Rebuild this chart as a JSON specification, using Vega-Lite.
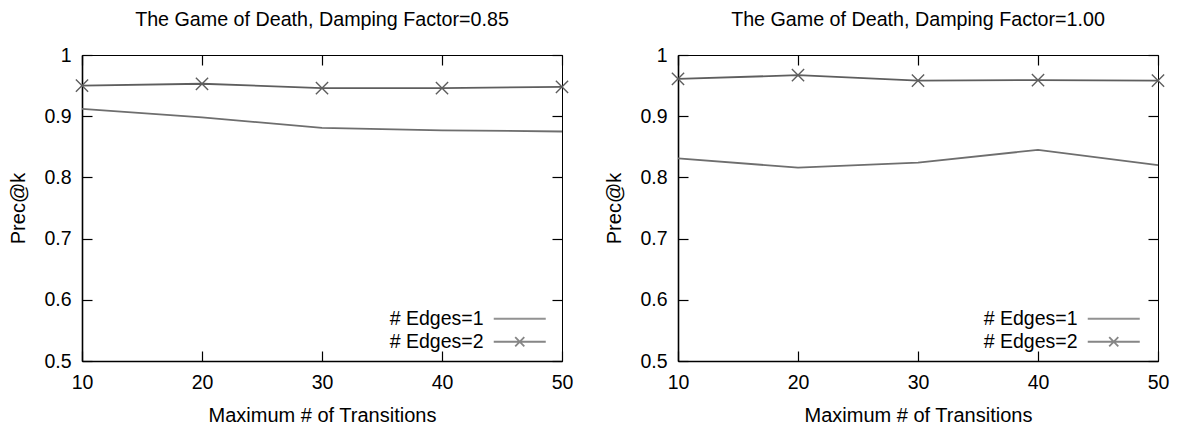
{
  "$schema": "https://vega.github.io/schema/vega-lite/v6.json",
  "background": "white",
  "padding": {"left": 8, "top": 9, "right": 5, "bottom": 5},
  "datasets": {
    "prec": [
      {"panel": "0.85", "transitions": 10, "edges": "# Edges=1", "prec": 0.912},
      {"panel": "0.85", "transitions": 20, "edges": "# Edges=1", "prec": 0.898},
      {"panel": "0.85", "transitions": 30, "edges": "# Edges=1", "prec": 0.881},
      {"panel": "0.85", "transitions": 40, "edges": "# Edges=1", "prec": 0.877},
      {"panel": "0.85", "transitions": 50, "edges": "# Edges=1", "prec": 0.875},
      {"panel": "0.85", "transitions": 10, "edges": "# Edges=2", "prec": 0.950},
      {"panel": "0.85", "transitions": 20, "edges": "# Edges=2", "prec": 0.953},
      {"panel": "0.85", "transitions": 30, "edges": "# Edges=2", "prec": 0.946},
      {"panel": "0.85", "transitions": 40, "edges": "# Edges=2", "prec": 0.946},
      {"panel": "0.85", "transitions": 50, "edges": "# Edges=2", "prec": 0.948},
      {"panel": "1.00", "transitions": 10, "edges": "# Edges=1", "prec": 0.831},
      {"panel": "1.00", "transitions": 20, "edges": "# Edges=1", "prec": 0.816},
      {"panel": "1.00", "transitions": 30, "edges": "# Edges=1", "prec": 0.824},
      {"panel": "1.00", "transitions": 40, "edges": "# Edges=1", "prec": 0.845},
      {"panel": "1.00", "transitions": 50, "edges": "# Edges=1", "prec": 0.820},
      {"panel": "1.00", "transitions": 10, "edges": "# Edges=2", "prec": 0.961},
      {"panel": "1.00", "transitions": 20, "edges": "# Edges=2", "prec": 0.967},
      {"panel": "1.00", "transitions": 30, "edges": "# Edges=2", "prec": 0.958},
      {"panel": "1.00", "transitions": 40, "edges": "# Edges=2", "prec": 0.959},
      {"panel": "1.00", "transitions": 50, "edges": "# Edges=2", "prec": 0.958}
    ]
  },
  "data": {"name": "prec"},
  "spacing": 30,
  "resolve": {"scale": {"color": "independent", "x": "independent", "y": "independent"}, "legend": {"color": "independent"}},
  "hconcat": [
    {
      "width": 480, "height": 306,
      "title": {"text": "The Game of Death, Damping Factor=0.85"},
      "transform": [{"filter": "datum.panel === '0.85'"}],
      "resolve": {"axis": {"x": "independent", "y": "independent"}},
      "layer": [
        {
          "mark": {"type": "line", "strokeWidth": 1.8},
          "encoding": {
            "x": {"field": "transitions", "type": "quantitative", "scale": {"domain": [10, 50], "nice": false, "zero": false},
                  "axis": {"title": "Maximum # of Transitions", "values": [10, 20, 30, 40, 50], "grid": false}},
            "y": {"field": "prec", "type": "quantitative", "scale": {"domain": [0.5, 1], "nice": false, "zero": false},
                  "axis": {"title": "Prec@k", "values": [0.5, 0.6, 0.7, 0.8, 0.9, 1.0], "grid": false,
                           "labelExpr": "datum.value == 1 ? '1' : format(datum.value, '.1f')"}},
            "color": {"field": "edges", "type": "nominal",
                      "scale": {"domain": ["# Edges=1", "# Edges=2"], "range": ["#6e6e6e", "#5e5e5e"]},
                      "legend": {"title": null, "orient": "none", "legendX": 402, "legendY": 254,
                                 "labelAlign": "right", "labelOffset": -20, "symbolOpacity": 0.75,
                                 "encode": {"symbols": {"update": {
                                   "shape": {"signal": "datum.value === '# Edges=2' ? 'M0,0H8M3.3,-0.7L4.7,0.7M3.3,0.7L4.7,-0.7' : 'M0,0H8'"}}}}}}
          }
        },
        {
          "transform": [{"filter": "datum.edges === '# Edges=2'"}],
          "mark": {"type": "point", "shape": "M-1,-1L1,1M-1,1L1,-1", "size": 150, "filled": false, "strokeWidth": 1.4, "color": "#5e5e5e", "opacity": 1},
          "encoding": {
            "x": {"field": "transitions", "type": "quantitative", "axis": {"orient": "top", "labels": false, "domain": false, "title": null, "values": [10, 20, 30, 40, 50], "grid": false}},
            "y": {"field": "prec", "type": "quantitative", "axis": {"orient": "right", "labels": false, "domain": false, "title": null, "values": [0.5, 0.6, 0.7, 0.8, 0.9, 1.0], "grid": false}}
          }
        }
      ]
    },
    {
      "width": 480, "height": 306,
      "title": {"text": "The Game of Death, Damping Factor=1.00"},
      "transform": [{"filter": "datum.panel === '1.00'"}],
      "resolve": {"axis": {"x": "independent", "y": "independent"}},
      "layer": [
        {
          "mark": {"type": "line", "strokeWidth": 1.8},
          "encoding": {
            "x": {"field": "transitions", "type": "quantitative", "scale": {"domain": [10, 50], "nice": false, "zero": false},
                  "axis": {"title": "Maximum # of Transitions", "values": [10, 20, 30, 40, 50], "grid": false}},
            "y": {"field": "prec", "type": "quantitative", "scale": {"domain": [0.5, 1], "nice": false, "zero": false},
                  "axis": {"title": "Prec@k", "values": [0.5, 0.6, 0.7, 0.8, 0.9, 1.0], "grid": false,
                           "labelExpr": "datum.value == 1 ? '1' : format(datum.value, '.1f')"}},
            "color": {"field": "edges", "type": "nominal",
                      "scale": {"domain": ["# Edges=1", "# Edges=2"], "range": ["#6e6e6e", "#5e5e5e"]},
                      "legend": {"title": null, "orient": "none", "legendX": 400, "legendY": 254,
                                 "labelAlign": "right", "labelOffset": -20, "symbolOpacity": 0.75,
                                 "encode": {"symbols": {"update": {
                                   "shape": {"signal": "datum.value === '# Edges=2' ? 'M0,0H8M3.3,-0.7L4.7,0.7M3.3,0.7L4.7,-0.7' : 'M0,0H8'"}}}}}}
          }
        },
        {
          "transform": [{"filter": "datum.edges === '# Edges=2'"}],
          "mark": {"type": "point", "shape": "M-1,-1L1,1M-1,1L1,-1", "size": 150, "filled": false, "strokeWidth": 1.4, "color": "#5e5e5e", "opacity": 1},
          "encoding": {
            "x": {"field": "transitions", "type": "quantitative", "axis": {"orient": "top", "labels": false, "domain": false, "title": null, "values": [10, 20, 30, 40, 50], "grid": false}},
            "y": {"field": "prec", "type": "quantitative", "axis": {"orient": "right", "labels": false, "domain": false, "title": null, "values": [0.5, 0.6, 0.7, 0.8, 0.9, 1.0], "grid": false}}
          }
        }
      ]
    }
  ],
  "config": {
    "font": "Liberation Sans",
    "view": {"stroke": "#000", "strokeWidth": 1},
    "title": {"fontSize": 19.7, "fontWeight": "normal", "font": "Liberation Sans", "color": "#000", "offset": 15},
    "axis": {
      "labelFont": "Liberation Sans", "labelFontSize": 19.5, "labelColor": "#000",
      "titleFont": "Liberation Sans", "titleFontSize": 20, "titleFontWeight": "normal", "titleColor": "#000",
      "tickSize": -10, "tickColor": "#000", "tickWidth": 1.2,
      "domainColor": "#000", "domainWidth": 1.6
    },
    "axisX": {"labelPadding": 22, "titlePadding": 14, "labelFlush": false},
    "axisY": {"labelPadding": 21, "titlePadding": 15, "labelFlush": false},
    "legend": {
      "labelFont": "Liberation Sans", "labelFontSize": 19.5, "labelColor": "#000",
      "symbolSize": 169, "symbolStrokeWidth": 1.8, "symbolFillColor": "transparent",
      "padding": 0, "rowPadding": 2
    }
  }
}
